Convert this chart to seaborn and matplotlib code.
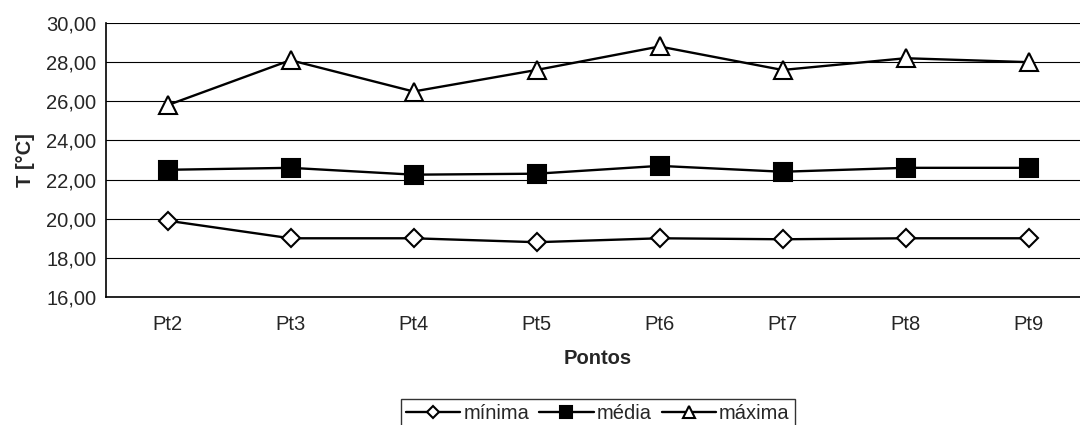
import numpy as np
import pandas as pd
import matplotlib
matplotlib.use("Agg")
import matplotlib.pyplot as plt
from matplotlib.ticker import FuncFormatter, FixedLocator
import seaborn as sns

# podaci ocitani s grafa
pontos = ["Pt2", "Pt3", "Pt4", "Pt5", "Pt6", "Pt7", "Pt8", "Pt9"]
minima = [19.9, 19.0, 19.0, 18.8, 19.0, 18.95, 19.0, 19.0]
media = [22.5, 22.6, 22.25, 22.3, 22.7, 22.4, 22.6, 22.6]
maxima = [25.8, 28.1, 26.5, 27.6, 28.8, 27.6, 28.2, 28.0]

series = [
    ("mínima", minima, "D", "white", 9.5),
    ("média", media, "s", "black", 13),
    ("máxima", maxima, "^", "white", 13),
]

sns.set_style("white")
plt.rcParams["font.family"] = ["Liberation Sans", "DejaVu Sans"]
fs = 14.5

fig = plt.figure(figsize=(10.8, 4.25), dpi=100)
ax = fig.add_axes([106 / 1080, 1 - 297 / 425, (1090 - 106) / 1080, (297 - 23) / 425])

for naziv, vrijednosti, marker, fill, ms in series:
    sns.lineplot(x=pontos, y=vrijednosti, ax=ax, color="black", linewidth=1.7,
                 marker=marker, markersize=ms, markerfacecolor=fill,
                 markeredgecolor="black", markeredgewidth=1.5, label=naziv)

ax.set_ylim(16, 30)
ax.set_xlim(-0.5, len(pontos) - 0.5)
ax.set_yticks(np.arange(16, 31, 2))
ax.yaxis.set_major_formatter(FuncFormatter(lambda v, p: f"{v:.2f}".replace(".", ",")))
ax.grid(axis="y", color="black", linewidth=0.8)
ax.grid(axis="x", visible=False)
ax.set_axisbelow(True)

# kategorije izmedu crtica
ax.set_xticks(range(len(pontos)))
ax.set_xticklabels(pontos)
ax.xaxis.set_minor_locator(FixedLocator(np.arange(-0.5, len(pontos), 1)))
ax.tick_params(axis="x", which="major", length=0, pad=13, labelsize=fs)
ax.tick_params(axis="x", which="minor", length=5, width=1, color="black", direction="out")
ax.tick_params(axis="y", length=5, width=1, color="black", direction="out", labelsize=fs, pad=2)

for s in ["top", "right"]:
    ax.spines[s].set_visible(False)
for s in ["left", "bottom"]:
    ax.spines[s].set_color("black")
    ax.spines[s].set_linewidth(1.2)

ax.set_xlabel("Pontos", fontsize=fs, fontweight="bold", labelpad=11)
ax.set_ylabel("T [°C]", fontsize=fs, fontweight="bold", labelpad=8)

leg = ax.legend(loc="upper center", bbox_to_anchor=(0.5535, 1 - 399 / 425),
                bbox_transform=fig.transFigure, ncol=3, frameon=True, fancybox=False,
                edgecolor="black", fontsize=fs, handlelength=2.7, handletextpad=0.15,
                columnspacing=0.5, borderpad=0.25, borderaxespad=0, markerscale=0.65)
leg.get_frame().set_linewidth(1.0)

fig.savefig("out.png", dpi=100)
